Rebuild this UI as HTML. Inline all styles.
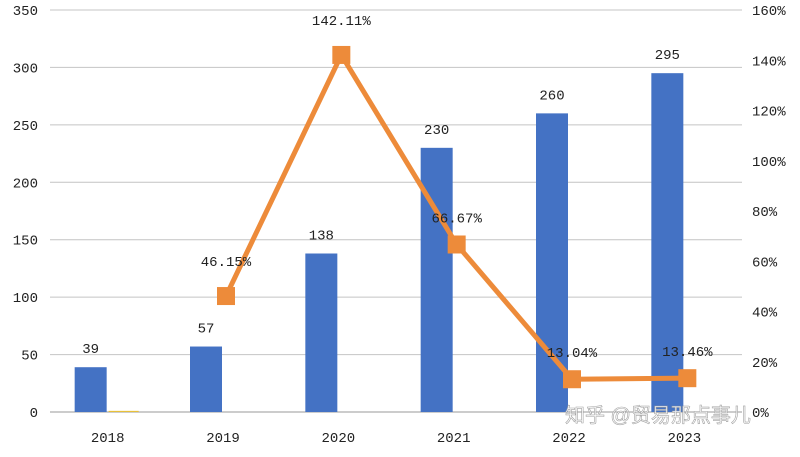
<!DOCTYPE html>
<html><head><meta charset="utf-8"><style>
body{margin:0;background:#fff;}
svg text{font-family:"Liberation Mono","DejaVu Sans Mono",monospace;font-size:14px;fill:#222;}
</style></head><body>
<svg id="chart" width="800" height="452" xmlns="http://www.w3.org/2000/svg"></svg>
<script>
const categories=["2018","2019","2020","2021","2022","2023"];
const barValues=[39,57,138,230,260,295];
const bar2Values=[1,0,0,0,0,0];
const lineValues=[null,46.15,142.11,66.67,13.04,13.46];
const lineLabels=["","46.15%","142.11%","66.67%","13.04%","13.46%"];
const leftTicks=[0,50,100,150,200,250,300,350];
const rightTicks=[0,20,40,60,80,100,120,140,160];
const NS="http://www.w3.org/2000/svg";
const svg=document.getElementById('chart');
const X0=50,X1=742,Y0=412,Y1=10;
const step=(X1-X0)/categories.length;
const cx=i=>X0+step*(i+0.5);
const yL=v=>Y0-(v/350)*(Y0-Y1);
const yR=v=>Y0-(v/160)*(Y0-Y1);
function mk(t,a,txt){const e=document.createElementNS(NS,t);for(const k in a)e.setAttribute(k,a[k]);if(txt!==undefined)e.textContent=txt;svg.appendChild(e);return e;}
leftTicks.forEach(v=>{
 const g=mk('line',{x1:X0,x2:X1,y1:yL(v),y2:yL(v),stroke:v===0?'#999':'#c4c4c4','stroke-width':1});
 
 
 const t=mk('text',{x:38,y:yL(v)+5,'text-anchor':'end'},String(v));
 
 
});
rightTicks.forEach(v=>{
 const t=mk('text',{x:752,y:yR(v)+5,'text-anchor':'start'},v+'%');
 
 
});
categories.forEach((c,i)=>{
 const t=mk('text',{x:cx(i),y:442,'text-anchor':'middle'},c);
 
 
 const b=mk('rect',{x:cx(i)-33,y:yL(barValues[i]),width:32,height:Y0-yL(barValues[i]),fill:'#4472C4'});
 
 
 if(bar2Values[i]>0){
  const b2=mk('rect',{x:cx(i)+1,y:yL(bar2Values[i]),width:30,height:Y0-yL(bar2Values[i]),fill:'#E8C13A'});
  
  
 }
 const l=mk('text',{x:cx(i)-17,y:yL(barValues[i])-14,'text-anchor':'middle'},String(barValues[i]));
 
 
});
const pts=[];lineValues.forEach((v,i)=>{if(v!==null)pts.push([cx(i)+3,yR(v)]);});
const pl=mk('polyline',{points:pts.map(p=>p.join(',')).join(' '),fill:'none',stroke:'#ED8B3A','stroke-width':5,'stroke-linejoin':'round'});


lineValues.forEach((v,i)=>{if(v===null)return;
 const m=mk('rect',{x:cx(i)+3-9,y:yR(v)-9,width:18,height:18,fill:'#ED8B3A'});
 
 
 const t=mk('text',{x:cx(i)+3,y:yR(v)-30,'text-anchor':'middle'},lineLabels[i]);
 if(i>=3)t.setAttribute('y',yR(v)-22);
 
 
});
const w=mk('text',{x:565,y:422},'知乎 @贸易那点事儿');
w.setAttribute('style','font-family:"Liberation Sans","Noto Sans CJK SC",sans-serif;font-size:20px;fill:#ffffff;stroke:#999;stroke-width:0.6;opacity:0.9');


</script>
</body></html>
